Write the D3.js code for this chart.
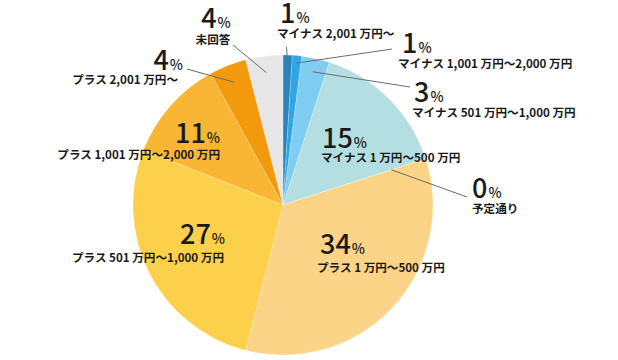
<!DOCTYPE html>
<html>
<head>
<meta charset="utf-8">
<script src="https://cdn.jsdelivr.net/npm/d3@7"></script>
<style>
  html, body { margin: 0; padding: 0; background: #fff; }
  svg { display: block; }
  text { font-family: "Noto Sans CJK JP", "Noto Sans", sans-serif; fill: #1a1a1a; }
</style>
</head>
<body>
<svg id="chart" width="618" height="360"></svg>
<script>
// ---- data ----
const categories = [
  "マイナス 2,001 万円〜",
  "マイナス 1,001 万円〜2,000 万円",
  "マイナス 501 万円〜1,000 万円",
  "マイナス 1 万円〜500 万円",
  "予定通り",
  "プラス 1 万円〜500 万円",
  "プラス 501 万円〜1,000 万円",
  "プラス 1,001 万円〜2,000 万円",
  "プラス 2,001 万円〜",
  "未回答"
];
const values = [1, 1, 3, 15, 0, 34, 27, 11, 4, 4];
const colors = ["#2b83be", "#2ea6e2", "#80cdf3", "#b4dfe2", "#f2c25a", "#fcd487", "#fdd04c", "#f8b634", "#f39a0c", "#e7e7e7"];

// ---- layout for labels (positions, not data) ----
const labelLayout = [
  { anchor: "start",  nx: 280, ny: 23,  lx: 277, ly: 38,  line: [286.5, 47], inner: 0.95 },
  { anchor: "start",  nx: 402, ny: 53,  lx: 398, ly: 68,  line: [392, 49],   inner: 0.95 },
  { anchor: "start",  nx: 414, ny: 102, lx: 412, ly: 117, line: [410, 87],   inner: 0.91 },
  { anchor: "start",  nx: 322, ny: 148, lx: 321, ly: 162, line: null },
  { anchor: "start",  nx: 472, ny: 198, lx: 472, ly: 213, line: [467, 197],  inner: 0.76 },
  { anchor: "start",  nx: 320, ny: 254, lx: 317, ly: 272, line: null },
  { anchor: "end",    nx: 225, ny: 244, lx: 224, ly: 262, line: null },
  { anchor: "end",    nx: 220, ny: 143, lx: 220, ly: 159, line: null },
  { anchor: "end",    nx: 183, ny: 70,  lx: 178, ly: 84,  line: [187, 69],   inner: 0.88 },
  { anchor: "middle", nx: 216, ny: 28,  lx: 213, ly: 44,  line: [233, 45],   inner: 0.89 }
];

const cx = 283, cy = 205, R = 150;
const svg = d3.select("#chart");
const g = svg.append("g").attr("transform", `translate(${cx},${cy})`);

const pie = d3.pie().sort(null).value(d => d.value);
const data = categories.map((c, i) => ({ name: c, value: values[i], color: colors[i], layout: labelLayout[i] }));
const arcs = pie(data);
const arc = d3.arc().innerRadius(0).outerRadius(R);

g.selectAll("path.slice")
  .data(arcs)
  .join("path")
  .attr("class", "slice")
  .attr("d", arc)
  .attr("fill", d => d.data.color)
  .attr("stroke", "#ffffff")
  .attr("stroke-opacity", 0.4)
  .attr("stroke-width", 0.5);

// leader lines
arcs.forEach(d => {
  const L = d.data.layout;
  if (!L.line) return;
  const mid = (d.startAngle + d.endAngle) / 2;
  const r = R * L.inner;
  const x1 = cx + r * Math.sin(mid), y1 = cy - r * Math.cos(mid);
  svg.append("line")
    .attr("x1", x1).attr("y1", y1)
    .attr("x2", L.line[0]).attr("y2", L.line[1])
    .attr("stroke", "#6b6b6b")
    .attr("stroke-width", 1);
});

// labels
arcs.forEach(d => {
  const L = d.data.layout;
  const t = svg.append("text")
    .attr("x", L.nx).attr("y", L.ny)
    .attr("text-anchor", L.anchor);
  t.append("tspan").attr("font-size", 27).attr("font-weight", 500).text(d.data.value);
  t.append("tspan").attr("font-size", 14).attr("font-weight", 500).attr("dx", 1).text("%");
  svg.append("text")
    .attr("x", L.lx).attr("y", L.ly)
    .attr("text-anchor", L.anchor)
    .attr("font-size", 11.6)
    .attr("font-weight", 700)
    .text(d.data.name);
});
</script>
</body>
</html>
